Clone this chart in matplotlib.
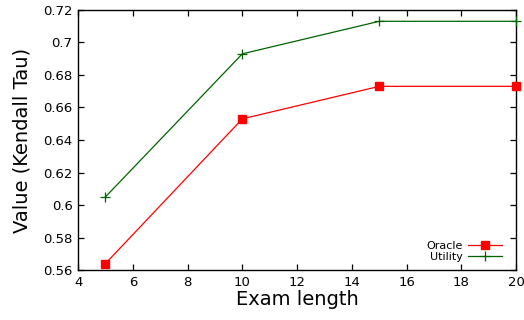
import matplotlib
matplotlib.use("Agg")
import matplotlib.pyplot as plt

exam_length = [5, 10, 15, 20]
oracle = [0.564, 0.653, 0.673, 0.673]
utility = [0.605, 0.693, 0.713, 0.713]

x_ticks = [4, 6, 8, 10, 12, 14, 16, 18, 20]
y_ticks = [0.56, 0.58, 0.6, 0.62, 0.64, 0.66, 0.68, 0.7, 0.72]
y_tick_labels = ["0.56", "0.58", "0.6", "0.62", "0.64", "0.66", "0.68", "0.7", "0.72"]

fig = plt.figure(figsize=(5.24, 3.2), dpi=100)
ax = fig.add_axes([0.149, 0.156, 0.836, 0.813])

ax.plot(exam_length, oracle, color="#ff0000", linewidth=0.9, marker="s",
        markersize=6, clip_on=False, label="Oracle", zorder=3)
ax.plot(exam_length, utility, color="#006400", linewidth=0.9, marker="+",
        markersize=6.5, markeredgewidth=0.9, clip_on=False, label="Utility", zorder=3)

ax.set_xlim(4, 20)
ax.set_ylim(0.56, 0.72)
ax.set_xticks(x_ticks)
ax.set_yticks(y_ticks)
ax.set_yticklabels(y_tick_labels)
ax.tick_params(direction="in", top=True, right=True, length=4, width=0.9,
               labelsize=9.5, pad=4)
for spine in ax.spines.values():
    spine.set_linewidth(1.0)

ax.set_xlabel("Exam length", fontsize=14, labelpad=1)
ax.set_ylabel("Value (Kendall Tau)", fontsize=14, labelpad=8)

ax.legend(loc="lower right", frameon=False, markerfirst=False, fontsize=8,
          handlelength=3.0, handletextpad=0.5, labelspacing=0.1,
          borderaxespad=0.3, bbox_to_anchor=(0.985, 0.0))

fig.savefig("out.png", dpi=100)
